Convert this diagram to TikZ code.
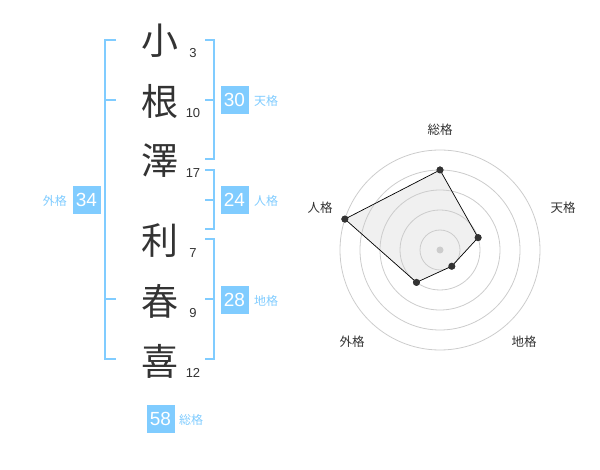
\documentclass[tikz,border=0pt]{standalone}
\usepackage{fontspec}
\setmainfont{Liberation Sans}
\newfontfamily\jp{Noto Sans CJK JP}
\usetikzlibrary{calc}
\definecolor{sky}{RGB}{128,204,255}
\definecolor{ink}{RGB}{51,51,51}
\definecolor{ring}{RGB}{204,204,204}
\definecolor{area}{RGB}{240,240,240}
\tikzset{
  kanji/.style={text=ink, font=\jp\fontsize{37}{37}\selectfont, inner sep=0pt},
  strokes/.style={text=ink, font=\fontsize{13}{13}\selectfont, inner sep=0pt},
  valbox/.style={fill=sky, text=white, minimum width=28pt, minimum height=28pt, inner sep=0pt, font=\fontsize{19}{19}\selectfont},
  kaku/.style={text=sky, font=\jp\fontsize{12}{12}\selectfont, inner sep=0pt},
  bracket/.style={draw=sky, line width=2pt},
  axislabel/.style={text=ink, font=\jp\fontsize{12.5}{12.5}\selectfont, inner sep=0pt},
  ringline/.style={draw=ring, line width=0.8pt},
  vertex/.style={circle, fill=ink, minimum size=7pt, inner sep=0pt},
}
\begin{document}
\begin{tikzpicture}[x=1pt,y=-1pt]
\useasboundingbox (0,0) rectangle (600,470);
% name characters
\node[kanji] (k1) at (160,41) {小};
\node[kanji] (k2) at (160,101) {根};
\node[kanji] (k3) at (160,161) {澤};
\node[kanji] (k4) at (160,241) {利};
\node[kanji] (k5) at (160,301) {春};
\node[kanji] (k6) at (160,361) {喜};
\node[strokes] (s1) at (193,53) {3};
\node[strokes] (s2) at (193,113) {10};
\node[strokes] (s3) at (193,173) {17};
\node[strokes] (s4) at (193,253) {7};
\node[strokes] (s5) at (193,313) {9};
\node[strokes] (s6) at (193,373) {12};
% brackets
\draw[bracket] (116,40) -- (105,40) -- (105,359) -- (116,359);
\draw[bracket] (105,100) -- (116,100);
\draw[bracket] (105,299) -- (116,299);
\draw[bracket] (205,40) -- (214,40) -- (214,159) -- (205,159);
\draw[bracket] (205,100) -- (214,100);
\draw[bracket] (205,170) -- (214,170) -- (214,229) -- (205,229);
\draw[bracket] (205,200) -- (214,200);
\draw[bracket] (205,239) -- (214,239) -- (214,359) -- (205,359);
\draw[bracket] (205,299) -- (214,299);
% value boxes
\node[valbox] (ten) at (234.5,100) {30};
\node[valbox] (jin) at (234.5,200) {24};
\node[valbox] (chi) at (234.5,300) {28};
\node[valbox] (gai) at (86.5,200) {34};
\node[valbox] (sou) at (160.5,419) {58};
\node[kaku, anchor=west] (tenl) at (254,101) {天格};
\node[kaku, anchor=west] (jinl) at (254,201) {人格};
\node[kaku, anchor=west] (chil) at (254,301) {地格};
\node[kaku, anchor=east] (gail) at (67,201) {外格};
\node[kaku, anchor=west] (soul) at (179,420) {総格};
% radar chart
\begin{scope}[shift={(440,250)}, y=1pt]
\coordinate (c) at (0,0);
\node[vertex] (vs) at (90:80) {};
\node[vertex] (vt) at (18:40) {};
\node[vertex] (vc) at (-54:20) {};
\node[vertex] (vg) at (-126:40) {};
\node[vertex] (vj) at (162:100) {};
\fill[area] (vs.center) -- (vt.center) -- (vc.center) -- (vg.center) -- (vj.center) -- cycle;
\foreach \r in {20,40,60,80,100} \draw[ringline] (c) circle[radius=\r];
\draw[black, line width=0.7pt] (vs.center) -- (vt.center) -- (vc.center) -- (vg.center) -- (vj.center) -- cycle;
\node[vertex] at (vs) {};
\node[vertex] at (vt) {};
\node[vertex] at (vc) {};
\node[vertex] at (vg) {};
\node[vertex] at (vj) {};
\node[circle, fill=ring, minimum size=7pt, inner sep=0pt] (cdot) at (c) {};
\node[axislabel] (ls) at (90:120) {総格};
\node[axislabel] (lt) at (123,42) {天格};
\node[axislabel] (lj) at (-120,42) {人格};
\node[axislabel] (lg) at (-88,-92) {外格};
\node[axislabel] (lc) at (84,-92) {地格};
\end{scope}
\end{tikzpicture}
\end{document}
